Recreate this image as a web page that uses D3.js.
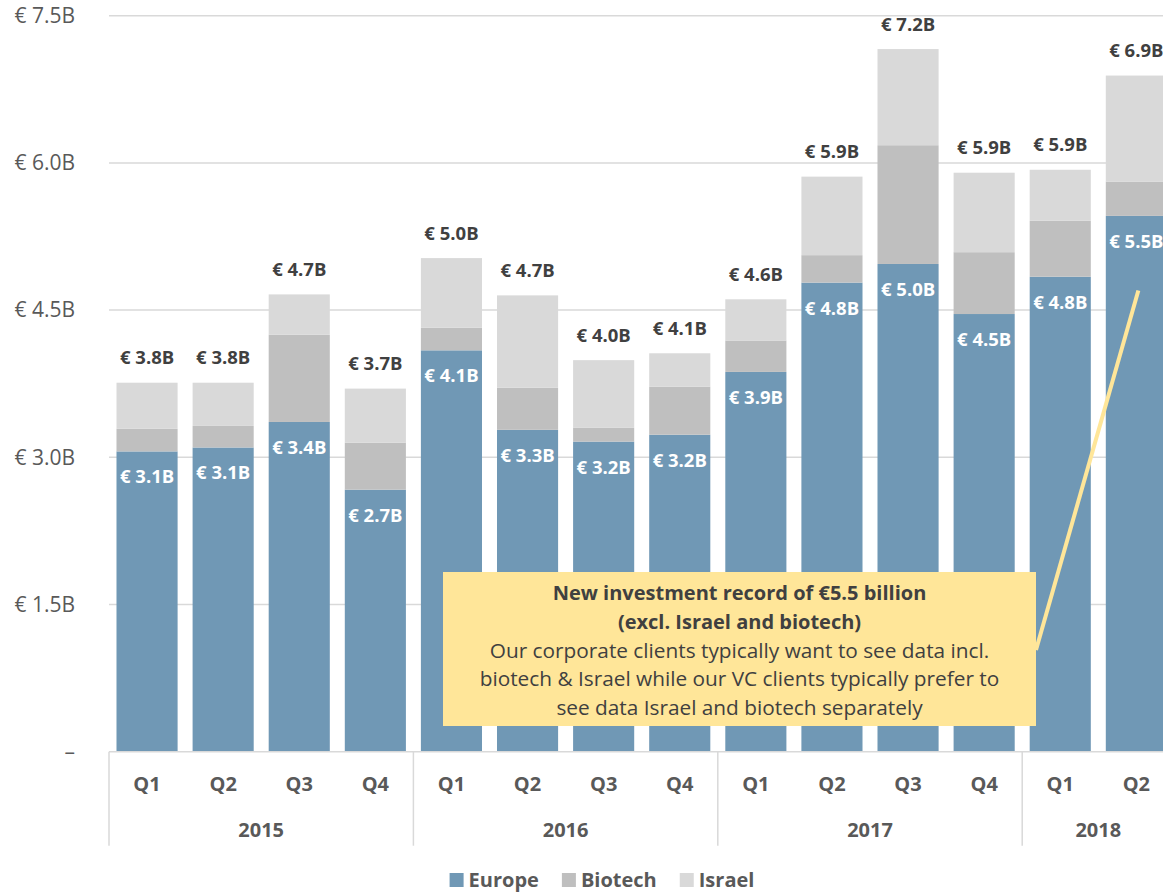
<!DOCTYPE html>
<html>
<head>
<meta charset="utf-8">
<script src="https://cdn.jsdelivr.net/npm/d3@7"></script>
<style>
  html, body { margin: 0; padding: 0; background: #fff; }
  svg { display: block; font-family: "Open Sans", sans-serif; }
</style>
</head>
<body>
<svg id="chart" width="1163" height="892"></svg>
<script>
// Quarterly venture investment, € billions
const quarters = ["Q1","Q2","Q3","Q4","Q1","Q2","Q3","Q4","Q1","Q2","Q3","Q4","Q1","Q2"];
const years    = ["2015","2015","2015","2015","2016","2016","2016","2016","2017","2017","2017","2017","2018","2018"];
const europe   = [3.06, 3.10, 3.36, 2.67, 4.09, 3.28, 3.16, 3.23, 3.87, 4.78, 4.97, 4.46, 4.84, 5.46];
const biotech  = [0.23, 0.22, 0.89, 0.48, 0.23, 0.43, 0.14, 0.49, 0.32, 0.28, 1.21, 0.63, 0.57, 0.35];
const israel   = [0.47, 0.44, 0.41, 0.55, 0.71, 0.94, 0.69, 0.34, 0.42, 0.80, 0.98, 0.81, 0.52, 1.08];
const yTicks   = [0, 1.5, 3.0, 4.5, 6.0, 7.5];
const seriesNames = ["Europe", "Biotech", "Israel"];

const colors = { Europe: "#7098B5", Biotech: "#BFBFBF", Israel: "#D9D9D9" };
const textDark = "#404040", textAxis = "#595959", gridColor = "#D9D9D9";

const rows = quarters.map((q, i) => ({
  key: years[i] + "-" + q, quarter: q, year: years[i],
  Europe: europe[i], Biotech: biotech[i], Israel: israel[i]
}));

const svg = d3.select("#chart");
const W = 1163;
const plotLeft = 109, plotRight = 1174.4, plotTop = 15.7, plotBottom = 751.7;

const x = d3.scaleBand()
  .domain(rows.map(d => d.key))
  .range([plotLeft, plotRight])
  .paddingInner(0.197)
  .paddingOuter(0.0985);

const y = d3.scaleLinear().domain([0, 7.5]).range([plotBottom, plotTop]);

const fmt = d3.format(".1f");
const money = v => "€ " + fmt(v) + "B";

// Horizontal gridlines
svg.append("g")
  .selectAll("line")
  .data(yTicks.filter(t => t > 0))
  .join("line")
  .attr("x1", plotLeft).attr("x2", W)
  .attr("y1", d => y(d)).attr("y2", d => y(d))
  .attr("stroke", gridColor).attr("stroke-width", 1.5);

// Y axis labels
const yAxis = svg.append("g")
  .attr("transform", `translate(${plotLeft},0)`)
  .call(d3.axisLeft(y).tickValues(yTicks).tickSize(0).tickPadding(34)
    .tickFormat(d => d === 0 ? "–" : money(d)));
yAxis.select(".domain").remove();
yAxis.selectAll("text")
  .attr("font-family", "Open Sans").attr("font-size", 21).attr("fill", textAxis);

// Stacked bars
const stacked = d3.stack().keys(seriesNames)(rows);
svg.append("g")
  .selectAll("g")
  .data(stacked)
  .join("g")
  .attr("fill", s => colors[s.key])
  .selectAll("rect")
  .data(s => s)
  .join("rect")
  .attr("x", d => x(d.data.key))
  .attr("width", x.bandwidth())
  .attr("y", d => y(d[1]))
  .attr("height", d => y(d[0]) - y(d[1]));

// Europe value labels inside the bar
svg.append("g")
  .selectAll("text")
  .data(rows)
  .join("text")
  .attr("x", d => x(d.key) + x.bandwidth() / 2)
  .attr("y", d => y(d.Europe) + 25.5)
  .attr("dy", "0.35em")
  .attr("text-anchor", "middle")
  .attr("font-size", 18.5).attr("font-weight", 700).attr("fill", "#fff")
  .text(d => money(d.Europe));

// Total value labels above the stack
svg.append("g")
  .selectAll("text")
  .data(rows)
  .join("text")
  .attr("x", d => x(d.key) + x.bandwidth() / 2)
  .attr("y", d => y(d.Europe + d.Biotech + d.Israel) - 25)
  .attr("dy", "0.35em")
  .attr("text-anchor", "middle")
  .attr("font-size", 18.5).attr("font-weight", 700).attr("fill", textDark)
  .text(d => money(d.Europe + d.Biotech + d.Israel));

// Category axis: baseline, quarter labels, year groups
const axisG = svg.append("g");
axisG.append("line")
  .attr("x1", plotLeft).attr("x2", W)
  .attr("y1", plotBottom).attr("y2", plotBottom)
  .attr("stroke", gridColor).attr("stroke-width", 1.5);

axisG.selectAll("text.q")
  .data(rows)
  .join("text")
  .attr("class", "q")
  .attr("x", d => x(d.key) + x.bandwidth() / 2)
  .attr("y", plotBottom + 32)
  .attr("dy", "0.35em")
  .attr("text-anchor", "middle")
  .attr("font-size", 20).attr("font-weight", 700).attr("fill", textAxis)
  .text(d => d.quarter);

const yearGroups = d3.groups(rows, d => d.year).map(([yr, items]) => ({
  year: yr,
  x0: x(items[0].key) - x.step() * x.paddingInner() / 2,
  x1: x(items[items.length - 1].key) + x.bandwidth() + x.step() * x.paddingInner() / 2
}));

axisG.selectAll("line.sep")
  .data(yearGroups)
  .join("line")
  .attr("class", "sep")
  .attr("x1", d => d.x0).attr("x2", d => d.x0)
  .attr("y1", plotBottom).attr("y2", plotBottom + 94)
  .attr("stroke", gridColor).attr("stroke-width", 1.5);

axisG.selectAll("text.yr")
  .data(yearGroups)
  .join("text")
  .attr("class", "yr")
  .attr("x", d => (d.x0 + d.x1) / 2)
  .attr("y", plotBottom + 78)
  .attr("dy", "0.35em")
  .attr("text-anchor", "middle")
  .attr("font-size", 20).attr("font-weight", 700).attr("fill", textAxis)
  .text(d => d.year);

// Callout pointing at the 2018 Q2 Europe bar
const callout = svg.append("g");
const lastKey = rows[rows.length - 1].key;
callout.append("line")
  .attr("x1", 1036).attr("y1", 650)
  .attr("x2", x(lastKey) + x.bandwidth() / 2 + 2).attr("y2", y(4.7))
  .attr("stroke", "#FFE699").attr("stroke-width", 4);
callout.append("rect")
  .attr("x", 443).attr("y", 572).attr("width", 593).attr("height", 154)
  .attr("fill", "#FFE699");
const calloutLines = [
  { t: "New investment record of €5.5 billion", b: true },
  { t: "(excl. Israel and biotech)", b: true },
  { t: "Our corporate clients typically want to see data incl.", b: false },
  { t: "biotech & Israel while our VC clients typically prefer to", b: false },
  { t: "see data Israel and biotech separately", b: false }
];
callout.selectAll("text")
  .data(calloutLines)
  .join("text")
  .attr("x", 739.5)
  .attr("y", (d, i) => 593 + i * 28.7)
  .attr("dy", "0.35em")
  .attr("text-anchor", "middle")
  .attr("font-size", d => d.b ? 20 : 20.8)
  .attr("font-weight", d => d.b ? 700 : 400)
  .attr("fill", textDark)
  .text(d => d.t);

// Legend
const legend = svg.append("g").attr("transform", "translate(0,880)");
const items = legend.selectAll("g")
  .data(seriesNames)
  .join("g");
items.append("rect")
  .attr("width", 14).attr("height", 14).attr("y", -7)
  .attr("fill", d => colors[d]);
items.append("text")
  .attr("x", 19).attr("dy", "0.35em")
  .attr("font-size", 20).attr("font-weight", 700).attr("fill", textAxis)
  .text(d => d);
const gap = 23;
const widths = [];
items.each(function () { widths.push(this.getBBox().width); });
const total = d3.sum(widths) + gap * (widths.length - 1);
let cx = 602 - total / 2;
items.attr("transform", (d, i) => {
  const t = `translate(${cx},0)`;
  cx += widths[i] + gap;
  return t;
});
</script>
</body>
</html>
